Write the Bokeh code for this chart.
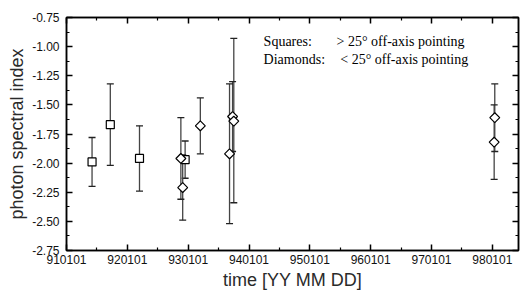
from bokeh.plotting import figure
from bokeh.models import (ColumnDataSource, Whisker, TeeHead, FixedTicker, LinearAxis,
                          NumeralTickFormatter, CustomJSTickFormatter, Label, Range1d)
from bokeh.embed import file_html
from bokeh.resources import INLINE
import math

# Squares: > 25 deg off-axis pointing
sq_t = [1991.42, 1991.72, 1992.20, 1992.95]
sq_y = [-1.99, -1.67, -1.96, -1.97]
sq_lo = [-2.20, -2.02, -2.24, -2.13]
sq_hi = [-1.78, -1.32, -1.68, -1.81]

# Diamonds: < 25 deg off-axis pointing
dia_t = [1992.88, 1992.91, 1993.20, 1993.68, 1993.73, 1993.75, 1998.04, 1998.03]
dia_y = [-1.96, -2.21, -1.68, -1.92, -1.60, -1.64, -1.61, -1.82]
dia_lo = [-2.31, -2.49, -1.92, -2.52, -1.90, -2.34, -1.90, -2.14]
dia_hi = [-1.61, -1.93, -1.44, -1.32, -1.30, -0.93, -1.32, -1.50]

x_ticks = [1991, 1992, 1993, 1994, 1995, 1996, 1997, 1998]
x_labels = ["910101", "920101", "930101", "940101", "950101", "960101", "970101", "980101"]
y_ticks = [-2.75, -2.50, -2.25, -2.00, -1.75, -1.50, -1.25, -1.00, -0.75]

p = figure(width=520, height=292, output_backend="svg", toolbar_location=None,
           x_range=Range1d(1991.0, 1998.43), y_range=Range1d(-2.75, -0.75),
           min_border_left=66, min_border_right=2, min_border_top=17, min_border_bottom=42,
           background_fill_color="white", border_fill_color="white")
p.grid.visible = False
p.outline_line_color = "black"
p.outline_line_width = 1.5

xt = FixedTicker(ticks=x_ticks, minor_ticks=[t + 0.5 for t in x_ticks[:-1]] + [1990.5, 1998.5])
yt = FixedTicker(ticks=y_ticks, minor_ticks=[v + 0.125 for v in y_ticks[:-1]])

def style(ax):
    ax.major_tick_in = 6
    ax.major_tick_out = 0
    ax.minor_tick_in = 3
    ax.minor_tick_out = 0
    ax.axis_line_color = "black"
    ax.axis_line_width = 1.5
    ax.major_tick_line_color = "black"
    ax.major_tick_line_width = 1.5
    ax.minor_tick_line_color = "black"
    ax.minor_tick_line_width = 1.2
    ax.major_label_text_font = "Liberation Sans"
    ax.major_label_text_font_size = "12px"
    ax.major_label_text_color = "#111111"
    ax.axis_label_text_font = "Liberation Sans"
    ax.axis_label_text_font_size = "18px"
    ax.axis_label_text_font_style = "normal"
    ax.axis_label_text_color = "#2a2a2a"

xa = p.xaxis[0]
xa.ticker = xt
xa.major_label_overrides = {t: l for t, l in zip(x_ticks, x_labels)}
xa.axis_label = "time [YY MM DD]"
xa.axis_label_standoff = 3
xa.major_label_standoff = 4
style(xa)

ya = p.yaxis[0]
ya.ticker = yt
ya.formatter = NumeralTickFormatter(format="0.00")
ya.axis_label = "photon spectral index"
ya.axis_label_standoff = 2
ya.major_label_standoff = 7
style(ya)

blank = CustomJSTickFormatter(code="return ''")
top = LinearAxis(ticker=xt, formatter=blank)
style(top)
top.major_label_text_font_size = "1px"
p.add_layout(top, "above")
right = LinearAxis(ticker=yt, formatter=blank)
style(right)
right.major_label_text_font_size = "1px"
p.add_layout(right, "right")

sq = ColumnDataSource(dict(t=sq_t, y=sq_y, lo=sq_lo, hi=sq_hi))
di = ColumnDataSource(dict(t=dia_t, y=dia_y, lo=dia_lo, hi=dia_hi))

for src in (sq, di):
    w = Whisker(source=src, base="t", lower="lo", upper="hi", dimension="height",
                line_color="#444444", line_width=1.3,
                upper_head=TeeHead(size=7, line_color="#222222", line_width=1.3),
                lower_head=TeeHead(size=7, line_color="#222222", line_width=1.3))
    p.add_layout(w)

p.scatter("t", "y", source=sq, marker="square", size=8, fill_color="white",
          line_color="black", line_width=1.2)
p.scatter("t", "y", source=di, marker="square", angle=math.pi / 4, size=7,
          fill_color="white", line_color="black", line_width=1.2)

lab_font = "Liberation Serif"
for txt, x, y in [("Squares:", 1994.24, -0.958), ("> 25\u00b0 off-axis pointing", 1995.44, -0.958),
                  ("Diamonds:", 1994.24, -1.109), ("< 25\u00b0 off-axis pointing", 1995.50, -1.109)]:
    p.add_layout(Label(x=x, y=y, text=txt, text_font=lab_font, text_font_size="14px",
                       text_baseline="middle", text_color="black"))

open("out.html", "w").write(file_html(p, INLINE))
